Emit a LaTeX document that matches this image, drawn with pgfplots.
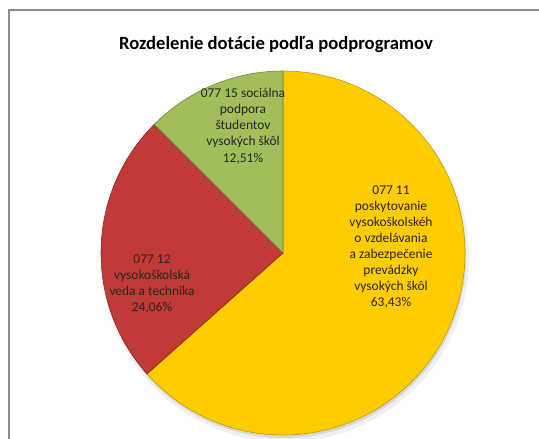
\documentclass[border=0pt]{standalone}
\usepackage{fontspec}
\setmainfont{Carlito}
\usepackage{pgfplots}
\usepackage{pgfplotstable}
\pgfplotsset{compat=1.18}

\definecolor{podYellow}{HTML}{FFCC00}
\definecolor{podRed}{HTML}{C03A37}
\definecolor{podGreen}{HTML}{A0BE5A}
\definecolor{frameGray}{HTML}{8C8C8C}

% shares of the three sub-programmes (percent)
\pgfplotstableread{
share
63.43
24.06
12.51
}\shares

\pgfplotstablegetelem{0}{share}\of\shares \let\sA\pgfplotsretval
\pgfplotstablegetelem{1}{share}\of\shares \let\sB\pgfplotsretval
\pgfplotstablegetelem{2}{share}\of\shares \let\sC\pgfplotsretval
\pgfmathsetmacro\aA{90-3.6*\sA}
\pgfmathsetmacro\aB{\aA-3.6*\sB}
\pgfmathsetmacro\aC{\aB-3.6*\sC}
\def\pieR{182}

\begin{document}
\begin{tikzpicture}
% chart frame
\draw[frameGray, line width=1.3bp] (9bp,-5bp) -- (9bp,429bp) -- (545bp,429bp);
\node[font=\fontsize{18.7}{22}\selectfont\bfseries] at (276bp,394bp)
  {Rozdelenie dotácie podľa podprogramov};

\begin{axis}[
    at={(283bp,186bp)}, anchor=origin,
    x=1bp, y=1bp,
    xmin=-200, xmax=200, ymin=-200, ymax=200,
    hide axis, clip=false,
]
% soft shadow
\fill[black, opacity=0.06] (axis cs:2,-5) circle[radius=\pieR bp+2bp];
\fill[black, opacity=0.10] (axis cs:1,-3) circle[radius=\pieR bp];

\filldraw[fill=podYellow, draw=podYellow!75!black, line width=0.6bp]
  (axis cs:0,0) -- ++(90:\pieR bp) arc[start angle=90, end angle=\aA, radius=\pieR bp] -- cycle;
\filldraw[fill=podRed, draw=podRed!70!black, line width=0.6bp]
  (axis cs:0,0) -- ++(\aA:\pieR bp) arc[start angle=\aA, end angle=\aB, radius=\pieR bp] -- cycle;
\filldraw[fill=podGreen, draw=podGreen!70!black, line width=0.6bp]
  (axis cs:0,0) -- ++(\aB:\pieR bp) arc[start angle=\aB, end angle=\aC, radius=\pieR bp] -- cycle;

\begin{scope}[every node/.style={align=center, font=\fontsize{13.5}{16.2}\selectfont, text=black!85}]
\node at (axis cs:108,6) {077 11\\poskytovanie\\vysokoškolskéh\\o vzdelávania\\a zabezpečenie\\prevádzky\\vysokých škôl\\63,43\%};
\node at (axis cs:-131,-31) {077 12\\vysokoškolská\\veda a technika\\24,06\%};
\node at (axis cs:-40,127) {077 15 sociálna\\podpora\\študentov\\vysokých škôl\\12,51\%};
\end{scope}
\end{axis}
\pgfresetboundingbox
\path[use as bounding box] (0,0) rectangle (539bp,439bp);
\end{tikzpicture}
\end{document}
